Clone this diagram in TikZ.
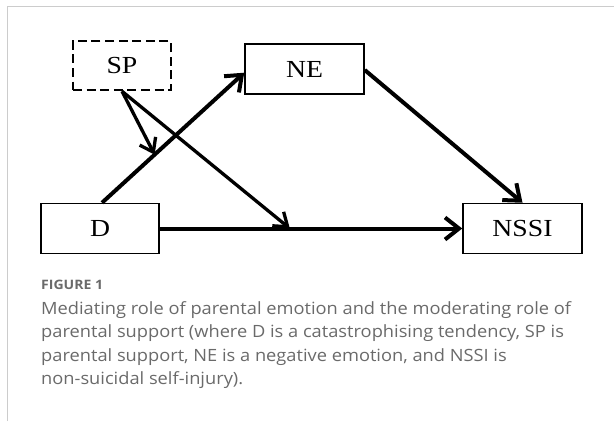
\documentclass[tikz,border=0pt]{standalone}
\usepackage{fontspec}
\setmainfont{Liberation Serif}
\newfontfamily\boxfont[FakeStretch=1.13]{Liberation Serif}
\newfontfamily\capfont[FakeStretch=1.08]{Open Sans}
\usetikzlibrary{arrows.meta,calc}
\definecolor{framegray}{HTML}{CCCCCC}
\definecolor{capgray}{HTML}{6A6A6A}
\begin{document}
\begin{tikzpicture}[x=1pt,y=-1pt,
  box/.style={draw, line width=1.5pt, minimum width=119pt, minimum height=50pt, inner sep=0pt, font=\boxfont\fontsize{24.5}{24.5}\selectfont},
  dbox/.style={box, dash pattern=on 9pt off 4.6pt, line width=2.5pt, minimum width=98pt, minimum height=49pt},
  conn/.style={line width=4pt, -{Straight Barb[length=14pt,width=22pt]}},
  modconn/.style={line width=3.3pt, -{Straight Barb[length=12.5pt,width=18pt]}},
  frameline/.style={draw=framegray, line width=1.3pt},
  captxt/.style={anchor=base west, inner sep=0pt, text=capgray, font=\capfont\fontsize{16.9}{20}\selectfont}
]
\useasboundingbox (0,0) rectangle (614,421);
\draw[frameline] (7.3,421) -- (7.3,6.7) -- (614,6.7);

\node[dbox] (SP) at (122,65.5) {SP};
\node[box] (NE) at (304.5,69) {NE};
\node[box, minimum width=118pt] (D) at (100,228.5) {D};
\node[box] (NSSI) at (522.5,228.5) {NSSI};

\draw[conn] ([xshift=2pt]D.north) -- coordinate[pos=0.37] (m1) ([yshift=-3.7pt]NE.west);
\draw[conn] (D.east) -- coordinate[pos=0.43] (m2) (NSSI.west);
\draw[conn] ([yshift=-1pt]NE.east) -- (NSSI.north);
\draw[modconn] (SP.south) -- (m1);
\draw[modconn] (SP.south) -- (m2);

\node[captxt, font=\capfont\bfseries\fontsize{13}{13}\selectfont] (fig) at (41,289.5) {FIGURE 1};
\node[captxt] (c1) at (41,314.3) {Mediating role of parental emotion and the moderating role of};
\node[captxt] (c2) at (41,337.8) {parental support (where D is a catastrophising tendency, SP is};
\node[captxt] (c3) at (41,361.3) {parental support, NE is a negative emotion, and NSSI is};
\node[captxt] (c4) at (41,384.8) {non-suicidal self-injury).};
\end{tikzpicture}
\end{document}
